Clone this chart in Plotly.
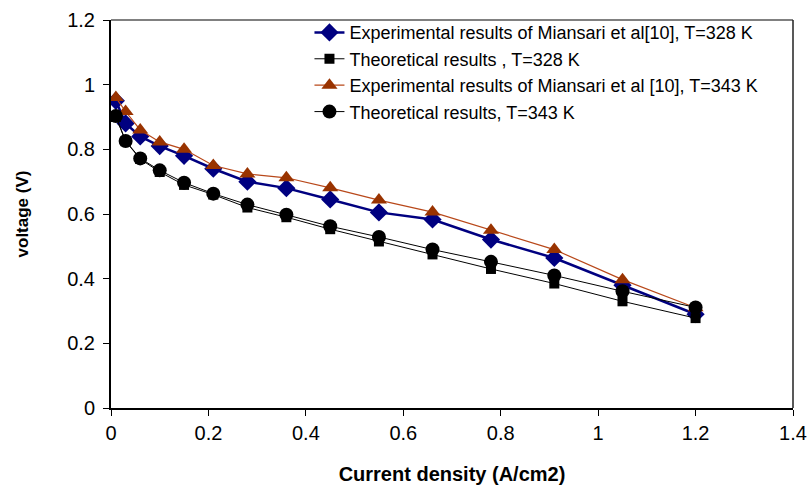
import plotly.graph_objects as go

current_density = [0.01, 0.03, 0.06, 0.10, 0.15, 0.21, 0.28, 0.36, 0.45, 0.55, 0.66, 0.78, 0.91, 1.05, 1.20]
exp_328 = [0.95, 0.88, 0.84, 0.81, 0.78, 0.74, 0.70, 0.68, 0.645, 0.605, 0.583, 0.521, 0.464, 0.38, 0.29]
theo_328 = [0.90, 0.825, 0.77, 0.73, 0.69, 0.66, 0.62, 0.59, 0.553, 0.515, 0.475, 0.43, 0.385, 0.33, 0.278]
exp_343 = [0.96, 0.917, 0.86, 0.823, 0.80, 0.75, 0.724, 0.712, 0.681, 0.643, 0.606, 0.55, 0.49, 0.397, 0.31]
theo_343 = [0.903, 0.826, 0.772, 0.735, 0.697, 0.663, 0.629, 0.598, 0.562, 0.529, 0.49, 0.452, 0.41, 0.361, 0.311]

names = [
    "Experimental results of Miansari et al[10], T=328 K",
    "Theoretical results , T=328 K",
    "Experimental results of Miansari et al [10], T=343 K",
    "Theoretical results, T=343 K",
]
x_ticks = [0, 0.2, 0.4, 0.6, 0.8, 1, 1.2, 1.4]
y_ticks = [0, 0.2, 0.4, 0.6, 0.8, 1, 1.2]

fig = go.Figure()
fig.add_trace(go.Scatter(x=current_density, y=exp_328, name=names[0], mode="lines+markers",
                         line=dict(color="#000080", width=2.5),
                         marker=dict(symbol="diamond", size=14, color="#000080")))
fig.add_trace(go.Scatter(x=current_density, y=theo_328, name=names[1], mode="lines+markers",
                         line=dict(color="#000000", width=1),
                         marker=dict(symbol="square", size=10, color="#000000")))
fig.add_trace(go.Scatter(x=current_density, y=exp_343, name=names[2], mode="lines+markers",
                         line=dict(color="#b8481a", width=1.2),
                         marker=dict(symbol="triangle-up", size=14, color="#993300")))
fig.add_trace(go.Scatter(x=current_density, y=theo_343, name=names[3], mode="lines+markers",
                         line=dict(color="#000000", width=1),
                         marker=dict(symbol="circle", size=14, color="#000000")))

fig.update_layout(
    width=811, height=492,
    margin=dict(l=111, r=18, t=20, b=84),
    paper_bgcolor="white", plot_bgcolor="white",
    font=dict(family="Liberation Sans, Arial, sans-serif", color="black"),
    showlegend=True,
    legend=dict(x=0.291, y=1.015, xanchor="left", yanchor="top",
                bgcolor="rgba(0,0,0,0)", font=dict(size=18, color="black"),
                tracegroupgap=0),
    xaxis=dict(range=[0, 1.4], tickvals=x_ticks, ticktext=[f"{v:g}" for v in x_ticks],
               showgrid=False, zeroline=False, showline=True, linecolor="black", linewidth=1.5,
               ticks="outside", ticklen=6, tickcolor="black", tickfont=dict(size=20),
               automargin=False,
               title=dict(text="<b>Current density (A/cm2)</b>", font=dict(size=20), standoff=24)),
    yaxis=dict(range=[0, 1.2], tickvals=y_ticks, ticktext=[f"{v:g}" for v in y_ticks],
               showgrid=False, zeroline=False, showline=True, linecolor="black", linewidth=2,
               ticks="outside", ticklen=6, tickcolor="black", tickfont=dict(size=20),
               ticklabelstandoff=4, automargin=False,
               title=dict(text="<b>voltage (V)</b>", font=dict(size=17), standoff=34)),
    shapes=[
        dict(type="line", xref="paper", yref="paper", x0=0, x1=1, y0=1, y1=1,
             line=dict(color="#808080", width=2)),
        dict(type="line", xref="paper", yref="paper", x0=1, x1=1, y0=0, y1=1,
             line=dict(color="#222222", width=1.5)),
    ],
)

fig.write_html("out.html")
